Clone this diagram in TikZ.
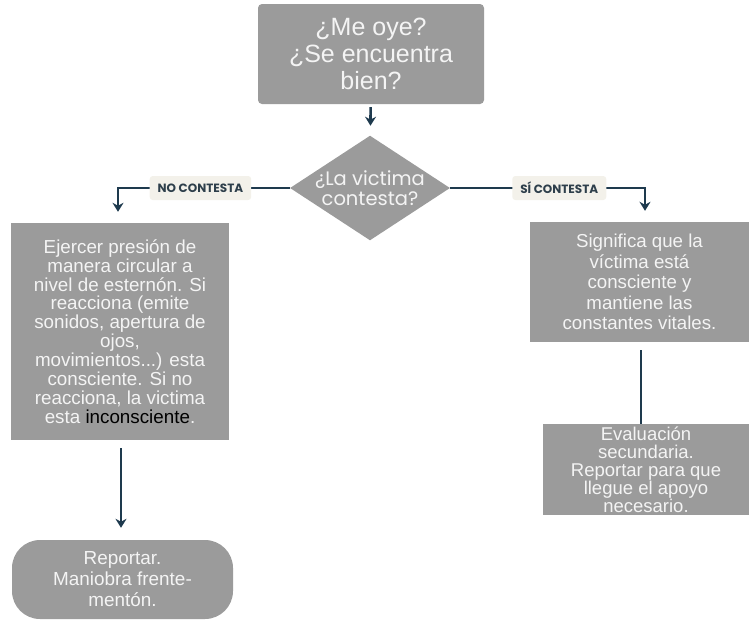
\documentclass[tikz,border=0pt]{standalone}
\usepackage{fontspec}
\setmainfont{Liberation Sans}
\newfontfamily\poppins{Poppins}
\usetikzlibrary{arrows.meta,positioning,shapes.geometric}
\definecolor{gris}{HTML}{9B9B9B}
\definecolor{azul}{HTML}{1E3A4E}
\definecolor{crema}{HTML}{F3F1EA}
\definecolor{blanco}{HTML}{F4F4F4}
\definecolor{tinta}{HTML}{2E3F4B}
\tikzset{
    %Define standard arrow tip
    >={Stealth[length=9pt,width=11pt]},
    %Define style for boxes
    caja/.style={
           rectangle,
           fill=gris,
           text=blanco,
           align=center,
           inner sep=0pt},
    %Define style for the question
    rombo/.style={
           diamond,
           fill=gris,
           text=blanco,
           align=center,
           inner sep=-10pt,
           minimum width=160pt,
           minimum height=100pt,
           font=\poppins\fontsize{19.5}{20}\selectfont},
    %Define style for the answers
    etiqueta/.style={
           rectangle,
           rounded corners=3pt,
           fill=crema,
           text=tinta,
           inner xsep=8pt,
           minimum height=24pt,
           font=\poppins\bfseries\fontsize{12}{13}\selectfont},
    % Define arrow style
    pil/.style={
           ->,
           draw=azul,
           line width=2.6pt}
}
\begin{document}
\begin{tikzpicture}[x=1pt,y=-1pt]
\useasboundingbox (0,0) rectangle (749,619);
%question at the top
\node[caja, rounded corners=4pt, minimum width=226pt, minimum height=100pt,
  font=\fontsize{25}{27}\selectfont] (oye) at (371,54)
  {¿Me oye?\\¿Se encuentra\\bien?};
\node[rombo] (victima) at (370,188) {¿La victima\\contesta?};
%left branch
\node[caja, minimum width=218pt, minimum height=217pt,
  font=\fontsize{18.8}{18.9}\selectfont] (ejercer) at (120,331.5)
  {Ejercer presión de\\manera circular a\\nivel de esternón. Si\\reacciona (emite\\sonidos, apertura de\\ojos,\\movimientos...) esta\\consciente. Si no\\reacciona, la victima\\esta \textcolor{black}{inconsciente}.};
\node[caja, rounded corners=28pt, minimum width=221pt, minimum height=79pt,
  font=\fontsize{18.9}{21}\selectfont] (reportar) at (122.5,579.5)
  {Reportar.\\Maniobra frente-\\mentón.};
%right branch
\node[caja, minimum width=219pt, minimum height=120pt,
  font=\fontsize{18.7}{20.5}\selectfont] (significa) at (639.5,282)
  {Significa que la\\víctima está\\consciente y\\mantiene las\\constantes vitales.};
\node[caja, minimum width=206pt, minimum height=91pt,
  font=\fontsize{18.5}{18}\selectfont] (evaluacion) at (646,469.5)
  {Evaluación\\secundaria.\\Reportar para que\\llegue el apoyo\\necesario.};
%connectors
\draw[pil, shorten <=3pt, shorten >=10pt] (oye) -- (victima);
\draw[pil, shorten >=11pt] (victima.west) -| ([xshift=-2pt]ejercer.north)
  node[etiqueta, pos=0.26] {NO CONTESTA};
\draw[pil, shorten >=11pt] (victima.east) -| ([xshift=5.5pt]significa.north)
  node[etiqueta, pos=0.28] {SÍ CONTESTA};
\draw[pil, -, shorten <=8pt] ([xshift=1.5pt]significa.south) -- ([xshift=1.5pt]significa.south |- evaluacion.north);
\draw[pil, shorten <=8pt, shorten >=12pt] ([xshift=1pt]ejercer.south) -- ([xshift=1pt]ejercer.south |- reportar.north);
\end{tikzpicture}
\end{document}
